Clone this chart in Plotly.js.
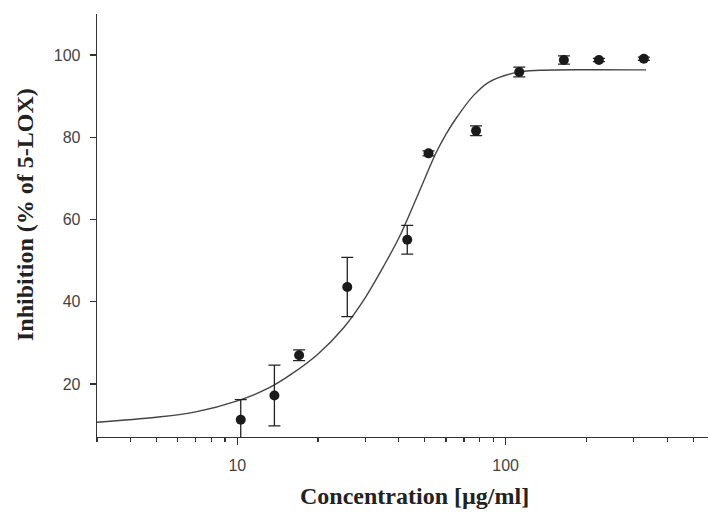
<!DOCTYPE html>
<html>
<head>
<meta charset="utf-8">
<script src="https://cdn.plot.ly/plotly-3.0.1.min.js"></script>
<style>html,body{margin:0;padding:0;background:#fff;}#chart{width:708px;height:515px;}</style>
</head>
<body>
<div id="chart"></div>
<script>
// Measured data points (concentration in µg/ml, inhibition %)
const concentration = [10.3, 13.75, 17.0, 25.7, 43.0, 51.6, 77.6, 112.4, 164.9, 222.7, 327.5];
const inhibition    = [11.3, 17.2, 27.0, 43.6, 55.1, 76.1, 81.6, 95.9, 98.8, 98.8, 99.1];
const inhibitionErr = [4.9, 7.4, 1.3, 7.2, 3.5, 0.6, 1.2, 1.2, 1.0, 0.4, 0.4];

// Fitted curve
const fitConc  = [3, 5, 7, 10, 13, 16, 20, 25, 30, 35, 40, 45, 50, 55, 60, 66, 76, 87, 110, 135, 200, 334];
const fitInhib = [10.7, 11.9, 13.2, 15.9, 18.9, 22.5, 27.3, 33.8, 41.0, 48.5, 55.5, 63.0, 70.0, 76.2, 80.8, 85.0, 90.2, 93.5, 95.8, 96.3, 96.45, 96.4];

// Axis ticks
const yTicks = [20, 40, 60, 80, 100];
const xMajorTicks = [10, 100];
const xMajorLabels = ['10', '100'];
const xMinorTicks = [3, 4, 5, 6, 7, 8, 9, 20, 30, 40, 50, 60, 70, 80, 90, 200, 300, 400, 500];

const xTitle = 'Concentration [µg/ml]';
const yTitle = 'Inhibition (% of 5-LOX)';

const axisColor = '#333';
const tickFont = {family: 'Liberation Sans, Arial, sans-serif', size: 16, color: '#444'};
const titleFont = {family: 'Liberation Serif, Times New Roman, serif', size: 24, color: '#222'};

const traces = [
  {
    x: fitConc, y: fitInhib, type: 'scatter', mode: 'lines',
    line: {color: '#444', width: 1.4, shape: 'spline', smoothing: 1},
    hoverinfo: 'skip', showlegend: false
  },
  {
    x: concentration, y: inhibition, type: 'scatter', mode: 'markers',
    marker: {color: '#1a1a1a', size: 10},
    error_y: {type: 'data', array: inhibitionErr, visible: true, color: '#222', thickness: 1.3, width: 6},
    showlegend: false
  }
];

const layout = {
  width: 708, height: 515,
  margin: {l: 97, r: 0, t: 14, b: 78},
  paper_bgcolor: '#fff', plot_bgcolor: '#fff',
  xaxis: {
    type: 'log',
    range: [Math.log10(3), Math.log10(568)],
    showgrid: false, zeroline: false,
    showline: true, linecolor: axisColor, linewidth: 1.3,
    tickmode: 'array', tickvals: xMajorTicks, ticktext: xMajorLabels,
    ticks: 'outside', ticklen: 7, tickwidth: 1.3, tickcolor: axisColor,
    ticklabelstandoff: 6,
    tickfont: tickFont,
    minor: {tickmode: 'array', tickvals: xMinorTicks, ticks: 'outside', ticklen: 4, tickwidth: 1.2, tickcolor: axisColor, showgrid: false}
  },
  yaxis: {
    range: [7.1, 110],
    showgrid: false, zeroline: false,
    showline: true, linecolor: axisColor, linewidth: 1.3,
    tickmode: 'array', tickvals: yTicks,
    ticks: 'outside', ticklen: 6, tickwidth: 1.3, tickcolor: axisColor,
    ticklabelstandoff: 6,
    tickfont: tickFont
  },
  annotations: [
    {text: '<b>' + xTitle + '</b>', xref: 'paper', yref: 'paper', x: 0.519, y: -0.140,
     xanchor: 'center', yanchor: 'middle', showarrow: false, font: titleFont},
    {text: '<b>' + yTitle + '</b>', xref: 'paper', yref: 'paper', x: -0.118, y: 0.527,
     xanchor: 'center', yanchor: 'middle', showarrow: false, textangle: -90, font: titleFont}
  ]
};

Plotly.newPlot('chart', traces, layout, {displayModeBar: false, staticPlot: true});
</script>
</body>
</html>
